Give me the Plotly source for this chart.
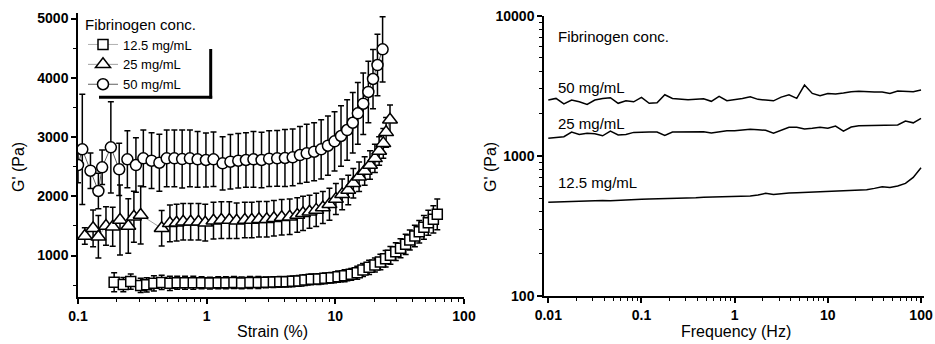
import plotly.graph_objects as go

# ---------------- Strain sweep data (left panel) ----------------
strain_125 = [0.191, 0.225, 0.257, 0.307, 0.342, 0.389, 0.447, 0.518, 0.59, 0.679,
              0.787, 0.913, 1.06, 1.23, 1.41, 1.63, 1.87, 2.17, 2.52, 2.89,
              3.3, 3.7, 4.15, 4.65, 5.2, 5.8, 6.5, 7.4, 8.3, 9.3,
              10.5, 11.8, 13.3, 14.8, 16.4, 18.3, 20.3, 22.4, 24.6, 26.8,
              29.5, 32.1, 35.2, 37.9, 41.5, 44.9, 48.8, 52.8, 57.8, 62.0]
g_125 = [548, 510, 560, 495, 505, 530, 545, 530, 540, 540,
         540, 540, 535, 540, 540, 545, 538, 545, 545, 548,
         552, 556, 558, 565, 572, 585, 598, 603, 615, 625,
         642, 659, 683, 710, 755, 801, 840, 890, 946, 1003,
         1064, 1122, 1189, 1262, 1329, 1402, 1476, 1554, 1611, 1695]
err_125 = [160, 120, 130, 120, 120, 130, 120, 120, 110, 110,
           110, 100, 100, 100, 100, 100, 100, 100, 100, 90,
           90, 90, 90, 90, 90, 90, 90, 90, 90, 90,
           95, 100, 100, 110, 110, 120, 120, 130, 140, 150,
           150, 160, 170, 170, 180, 190, 200, 210, 230, 260]

strain_25 = [0.113, 0.131, 0.144, 0.165, 0.186, 0.212, 0.246, 0.272, 0.307, 0.447,
             0.518, 0.584, 0.657, 0.751, 0.864, 0.975, 1.13, 1.30, 1.50, 1.71,
             1.98, 2.24, 2.55, 2.93, 3.33, 3.83, 4.42, 5.06, 5.61, 6.3,
             7.1, 8.0, 9.0, 10.1, 11.3, 12.6, 13.8, 15.3, 16.9, 18.6,
             20.3, 21.9, 23.6, 24.8, 26.6]
g_25 = [1329, 1459, 1317, 1498, 1486, 1599, 1498, 1655, 1684, 1459,
        1543, 1554, 1570, 1570, 1570, 1554, 1587, 1599, 1599, 1587,
        1599, 1599, 1611, 1611, 1628, 1645, 1655, 1684, 1712, 1739,
        1770, 1810, 1864, 1954, 2033, 2105, 2219, 2330, 2426, 2527,
        2640, 2764, 2893, 3079, 3290]
err_25 = [140, 310, 360, 325, 330, 590, 460, 430, 490, 300,
          310, 310, 310, 310, 310, 310, 310, 310, 310, 300,
          300, 300, 300, 300, 300, 300, 300, 290, 290, 280,
          280, 270, 270, 260, 260, 250, 250, 250, 240, 240,
          240, 240, 250, 250, 250]

strain_50 = [0.1, 0.108, 0.125, 0.144, 0.154, 0.18, 0.209, 0.242, 0.282, 0.322,
             0.373, 0.429, 0.489, 0.561, 0.645, 0.741, 0.85, 0.987, 1.13, 1.33,
             1.53, 1.76, 2.02, 2.31, 2.67, 3.06, 3.53, 4.06, 4.66, 5.31,
             5.99, 6.84, 7.76, 8.76, 9.86, 11.07, 12.35, 13.66, 14.96, 16.48,
             18.06, 19.63, 21.26, 23.3]
g_50 = [2527, 2792, 2431, 2089, 2489, 2826, 2455, 2624, 2527, 2640,
        2600, 2566, 2640, 2640, 2628, 2640, 2624, 2612, 2624, 2556,
        2583, 2600, 2612, 2624, 2612, 2634, 2640, 2646, 2657, 2696,
        2725, 2752, 2792, 2853, 2927, 3017, 3118, 3241, 3400, 3562,
        3760, 3979, 4215, 4480]
err_50 = [300, 930, 300, 300, 290, 770, 440, 480, 460, 480,
          470, 480, 480, 480, 490, 480, 470, 455, 460, 450,
          460, 460, 460, 470, 470, 470, 470, 480, 480, 480,
          490, 490, 500, 500, 500, 510, 510, 510, 520, 520,
          520, 500, 520, 550]

# ---------------- Frequency sweep data (right panel) ----------------
freq = [0.01, 0.0121, 0.0147, 0.0178, 0.0215, 0.0261, 0.0316, 0.0383, 0.0464, 0.0562,
        0.0681, 0.0825, 0.1, 0.121, 0.147, 0.178, 0.215, 0.261, 0.316, 0.383,
        0.464, 0.562, 0.681, 0.825, 1.0, 1.21, 1.47, 1.78, 2.15, 2.61,
        3.16, 3.83, 4.64, 5.62, 6.81, 8.25, 10.0, 12.1, 14.7, 17.8,
        21.5, 26.1, 31.6, 38.3, 46.4, 56.2, 68.1, 82.5, 100.0]
gf_50 = [2500, 2570, 2345, 2500, 2430, 2330, 2500, 2570, 2600, 2370,
         2475, 2430, 2610, 2370, 2395, 2730, 2570, 2530, 2515, 2530,
         2550, 2450, 2660, 2475, 2515, 2570, 2640, 2530, 2500, 2470,
         2625, 2730, 2570, 3200, 2790, 2685, 2780, 2760, 2810, 2870,
         2885, 2855, 2855, 2855, 2790, 2900, 2900, 2870, 2950]
gf_25 = [1333, 1350, 1369, 1480, 1420, 1450, 1440, 1390, 1500, 1410,
         1420, 1470, 1480, 1480, 1480, 1400, 1480, 1480, 1480, 1490,
         1487, 1455, 1487, 1510, 1510, 1529, 1545, 1537, 1520, 1450,
         1529, 1597, 1597, 1553, 1572, 1597, 1572, 1632, 1500, 1605,
         1640, 1640, 1650, 1659, 1650, 1659, 1770, 1720, 1852]
gf_125 = [466, 468, 470, 473, 476, 478, 480, 481, 478, 482,
          484, 487, 490, 492, 493, 493, 495, 495, 497, 502,
          506, 508, 511, 511, 511, 514, 517, 525, 540, 531,
          540, 543, 546, 549, 549, 552, 555, 558, 561, 567,
          570, 574, 586, 602, 594, 609, 636, 702, 823]

series_names = ["12.5 mg/mL", "25 mg/mL", "50 mg/mL"]
legend_title = "Fibrinogen conc."

# tick labels
strain_ticks = [0.1, 1, 10, 100]
strain_ticktext = ["0.1", "1", "10", "100"]
gstrain_ticks = [1000, 2000, 3000, 4000, 5000]
freq_ticks = [0.01, 0.1, 1, 10, 100]
freq_ticktext = ["0.01", "0.1", "1", "10", "100"]
gfreq_ticks = [100, 1000, 10000]

FONT = "Liberation Sans, Arial, sans-serif"

fig = go.Figure()

def err(arr):
    return dict(type="data", array=arr, visible=True, color="black", thickness=1.5, width=3)

fig.add_trace(go.Scatter(
    x=strain_125, y=g_125, name=series_names[0], mode="lines+markers",
    line=dict(color="#b0b0b0", width=1),
    marker=dict(symbol="square", size=10, color="white", line=dict(color="black", width=1.5)),
    error_y=err(err_125), xaxis="x", yaxis="y"))
fig.add_trace(go.Scatter(
    x=strain_25, y=g_25, name=series_names[1], mode="lines+markers",
    line=dict(color="#a0a0a0", width=1),
    marker=dict(symbol="triangle-up", size=13, color="white", line=dict(color="black", width=1.5)),
    error_y=err(err_25), xaxis="x", yaxis="y"))
fig.add_trace(go.Scatter(
    x=strain_50, y=g_50, name=series_names[2], mode="lines+markers",
    line=dict(color="#606060", width=1),
    marker=dict(symbol="circle", size=11, color="white", line=dict(color="black", width=1.5)),
    error_y=err(err_50), xaxis="x", yaxis="y"))

for yy in (gf_50, gf_25, gf_125):
    fig.add_trace(go.Scatter(x=freq, y=yy, mode="lines", showlegend=False,
                             line=dict(color="black", width=1.5), xaxis="x2", yaxis="y2"))

def bold(lst):
    return ["<b>%s</b>" % t for t in lst]

axis_common = dict(showline=True, linecolor="black", linewidth=1.5, showgrid=False, zeroline=False,
                   ticks="outside", ticklen=5, tickwidth=1.5, tickcolor="black", automargin=False,
                   tickfont=dict(family=FONT, size=14, color="black"), mirror=False)

fig.update_layout(
    template="none", autosize=False,
    width=935, height=344, margin=dict(l=0, r=0, t=0, b=0, pad=0),
    paper_bgcolor="white", plot_bgcolor="white", showlegend=True,
    font=dict(family=FONT, color="black"),
    xaxis=dict(axis_common, type="log", domain=[78/935, 464/935], range=[-1, 2], anchor="y",
               tickvals=strain_ticks, ticktext=bold(strain_ticktext),
               minor=dict(ticks="outside", ticklen=3, tickwidth=1, tickcolor="black",
                          tickvals=[0.2, 0.3, 0.4, 0.5, 0.6, 0.7, 0.8, 0.9, 2, 3, 4, 5, 6, 7, 8, 9,
                                    20, 30, 40, 50, 60, 70, 80, 90])),
    yaxis=dict(axis_common, domain=[1-297/344, 1-13/344], range=[300, 5093], anchor="x",
               tickvals=gstrain_ticks, ticktext=bold([str(v) for v in gstrain_ticks]),
               minor=dict(ticks="outside", ticklen=3, tickwidth=1, tickcolor="black",
                          tickvals=[500, 1500, 2500, 3500, 4500])),
    xaxis2=dict(axis_common, type="log", domain=[544/935, 924/935], range=[-2.046, 2.032], anchor="y2",
                tickvals=freq_ticks, ticktext=bold(freq_ticktext),
                minor=dict(ticks="outside", ticklen=3, tickwidth=1, tickcolor="black",
                           tickvals=[0.02, 0.03, 0.04, 0.05, 0.06, 0.07, 0.08, 0.09,
                                     0.2, 0.3, 0.4, 0.5, 0.6, 0.7, 0.8, 0.9, 2, 3, 4, 5, 6, 7, 8, 9,
                                     20, 30, 40, 50, 60, 70, 80, 90])),
    yaxis2=dict(axis_common, type="log", domain=[1-296/344, 1-15.7/344], range=[2, 4], anchor="x2",
                tickvals=gfreq_ticks, ticktext=bold([str(v) for v in gfreq_ticks]),
                minor=dict(ticks="outside", ticklen=3, tickwidth=1, tickcolor="black",
                           tickvals=[200, 300, 400, 500, 600, 700, 800, 900,
                                     2000, 3000, 4000, 5000, 6000, 7000, 8000, 9000])),
    legend=dict(x=83/935, y=1-10/344, xanchor="left", yanchor="top",
                bgcolor="rgba(0,0,0,0)", borderwidth=0,
                title=dict(text=legend_title, font=dict(family=FONT, size=15, color="black")),
                font=dict(family=FONT, size=13, color="black"),
                tracegroupgap=0, itemwidth=30),
)

# legend drop shadow
fig.add_shape(type="line", xref="paper", yref="paper", x0=210.7/935, x1=210.7/935,
              y0=1-49/344, y1=1-98.5/344, line=dict(color="black", width=3))
fig.add_shape(type="line", xref="paper", yref="paper", x0=99/935, x1=212.2/935,
              y0=1-97.3/344, y1=1-97.3/344, line=dict(color="black", width=3))

ann = []
# axis titles
ann.append(dict(text="G' (Pa)", x=18/935, y=1-167/344, textangle=-90, font=dict(size=16)))
ann.append(dict(text="G' (Pa)", x=490/935, y=1-167/344, textangle=-90, font=dict(size=16)))
ann.append(dict(text="Strain (%)", x=272/935, y=1-331/344, font=dict(size=16)))
ann.append(dict(text="Frequency (Hz)", x=736/935, y=1-331/344, font=dict(size=16)))
# right panel labels
right_labels = [(legend_title, 37), (series_names[2], 87), (series_names[1], 124), (series_names[0], 183)]
for txt, yy in right_labels:
    ann.append(dict(text=txt, x=556/935, y=1-yy/344, xanchor="left", font=dict(size=15)))
for a in ann:
    a.setdefault("xanchor", "center")
    a.update(xref="paper", yref="paper", yanchor="middle", showarrow=False)
    a["font"].update(family=FONT, color="black")
fig.update_layout(annotations=ann)

fig.write_html("out.html", config={"displayModeBar": False},
               post_script="document.body.style.margin='0';document.body.style.overflow='hidden';")
